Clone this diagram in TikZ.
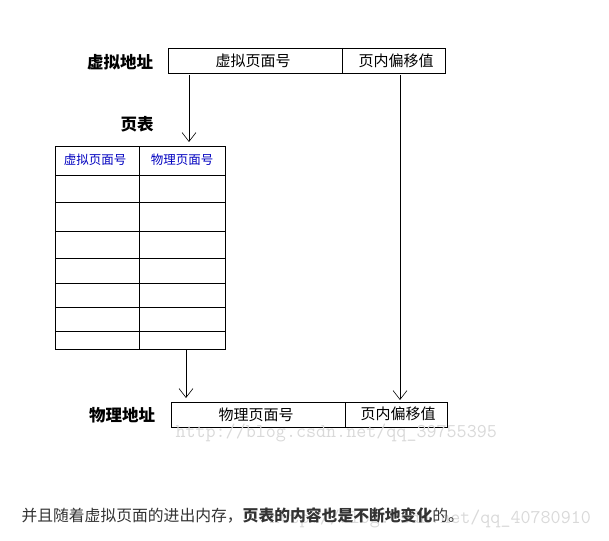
\documentclass[tikz,border=0pt]{standalone}
\usepackage{fontspec}
\setmainfont{Noto Sans CJK SC}
\usetikzlibrary{arrows.meta}
\begin{document}
\begin{tikzpicture}[x=1pt,y=-1pt,
  lbl/.style={font=\bfseries\fontsize{16.5}{19}\selectfont},
  cell/.style={font=\fontsize{15}{17}\selectfont},
  hdr/.style={font=\fontsize{12.5}{14}\selectfont,text=blue!75!black},
  wm/.style={font=\ttfamily\fontsize{19.5}{21}\selectfont,text=gray!30},
  arr/.style={-{Straight Barb[length=9pt,width=14pt]},line width=0.6pt},
  box/.style={draw,line width=0.6pt}]
\useasboundingbox (0,0) rectangle (609,540);
% top address
\node[lbl] (va) at (120,62) {虚拟地址};
\draw[box] (168,48) rectangle (445,73);
\draw[box] (342,48) -- (342,73);
\node[cell] (vpn) at (253,61) {虚拟页面号};
\node[cell] (off1) at (396,61) {页内偏移值};
% page table
\node[lbl] (pt) at (137,124) {页表};
\draw[box] (55,146) rectangle (225,349);
\draw[box] (139,146) -- (139,349);
\foreach \y in {175,202,231,258,283,307,331}{\draw[box] (55,\y) -- (225,\y);}
\node[hdr] (h1) at (95,160) {虚拟页面号};
\node[hdr] (h2) at (182,160) {物理页面号};
% bottom address
\node[lbl] (pa) at (122,415) {物理地址};
\draw[box] (171,402) rectangle (447,427);
\draw[box] (345,402) -- (345,427);
\node[cell] (ppn) at (256,415) {物理页面号};
\node[cell] (off2) at (398,414) {页内偏移值};
% arrows
\coordinate (a1) at (189,75); \coordinate (a1e) at (189,142);
\coordinate (a2) at (400,75); \coordinate (a2e) at (400,400);
\coordinate (a3) at (186,350); \coordinate (a3e) at (186,398);
\draw[arr] (a1) -- (a1e);
\draw[arr] (a2) -- (a2e);
\draw[arr] (a3) -- (a3e);
% watermarks
\node[wm,anchor=west] (w1) at (172,433) {http://blog.csdn.net/qq\_39755395};
\node[wm,anchor=west] (w2) at (266,519) {http://blog.csdn.net/qq\_40780910};
% caption
\node[anchor=west,font=\fontsize{15.8}{18}\selectfont,text=black!80] (cap) at (18,515) {并且随着虚拟页面的进出内存，\textbf{页表的内容也是不断地变化}的。};
\end{tikzpicture}
\end{document}
